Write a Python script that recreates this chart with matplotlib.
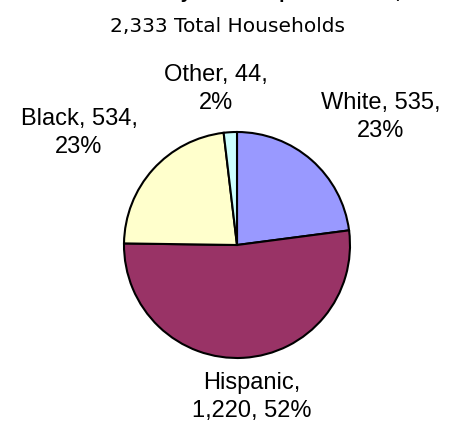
import matplotlib
matplotlib.use("Agg")
import matplotlib.pyplot as plt

categories = ["White", "Hispanic", "Black", "Other"]
values = [535, 1220, 534, 44]
percents = ["23%", "52%", "23%", "2%"]
colors = ["#9999FF", "#993366", "#FFFFCC", "#CCFFFF"]
title = "Households by Race/Hispanic Status,"
subtitle = "2,333 Total Households"

W, H = 452, 430
fig = plt.figure(figsize=(W / 100, H / 100), dpi=100)
ax = fig.add_axes([0, 0, 1, 1])

wedges, _ = ax.pie(values, colors=colors, startangle=90, counterclock=False,
                   center=(237, 430 - 245), radius=113, frame=True,
                   wedgeprops=dict(edgecolor="black", linewidth=1.5))
ax.set_xlim(0, W)
ax.set_ylim(0, H)
ax.set_aspect("equal")
ax.axis("off")

font = "Liberation Sans"
fig.text(0.5, 1 + 2.0 / H, title, ha="center", va="baseline", fontsize=14,
         fontweight="bold", family=font)
fig.text(228 / W, 1 - 27 / H, subtitle, ha="center", va="center", fontsize=14.5,
         family="DejaVu Sans")

label_pos = {"White": (381, 117), "Hispanic": (252, 397), "Black": (79, 133), "Other": (216, 89)}
for cat, v, p in zip(categories, values, percents):
    x, y = label_pos[cat]
    if cat == "Hispanic":
        txt = f"{cat},\n{v:,}, {p}"
    else:
        txt = f"{cat}, {v:,},\n{p}"
    ax.text(x, H - y, txt, ha="center", va="center", fontsize=17, family=font,
            linespacing=1.35, multialignment="center")

fig.savefig("out.png", dpi=100)
